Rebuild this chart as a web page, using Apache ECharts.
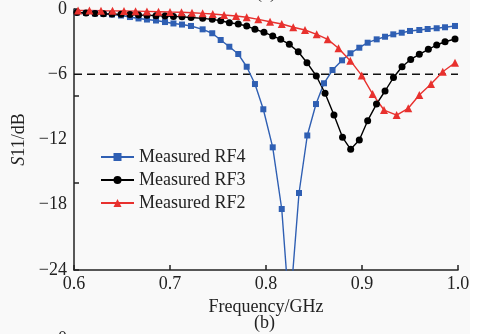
<!DOCTYPE html>
<html>
<head>
<meta charset="utf-8">
<script src="https://cdn.jsdelivr.net/npm/echarts@6/dist/echarts.min.js"></script>
<style>
  html, body { margin: 0; padding: 0; background: #ffffff; }
  #chart { width: 483px; height: 334px; }
</style>
</head>
<body>
<div id="chart"></div>
<script>
// Reflection coefficient S11 (dB) versus frequency (GHz) for three measured designs
const freqRF4 = [0.603,0.6125,0.6219,0.6307,0.6396,0.649,0.6583,0.6672,0.676,0.6854,0.6948,0.7036,0.7125,0.7219,0.734,0.744,0.7528,0.7618,0.7711,0.7799,0.7885,0.7972,0.807,0.8164,0.8245,0.8344,0.843,0.8521,0.8604,0.8693,0.8792,0.888,0.8972,0.9059,0.9153,0.924,0.9326,0.9414,0.95,0.9597,0.9684,0.9778,0.9865,0.9969];
const s11RF4 = [-0.32,-0.37,-0.41,-0.46,-0.51,-0.60,-0.74,-0.87,-0.97,-1.06,-1.20,-1.33,-1.43,-1.56,-1.87,-2.23,-2.85,-3.47,-4.14,-5.31,-6.90,-9.22,-12.72,-18.39,-28.0,-16.92,-11.63,-8.74,-6.83,-5.61,-4.72,-4.07,-3.56,-3.10,-2.79,-2.55,-2.33,-2.18,-2.02,-1.93,-1.84,-1.77,-1.68,-1.56];

const freqRF3 = [0.603,0.6125,0.6219,0.6307,0.6396,0.649,0.6583,0.6672,0.676,0.6854,0.6948,0.7036,0.7125,0.7219,0.734,0.744,0.7528,0.7618,0.7711,0.7799,0.7885,0.7979,0.807,0.8153,0.8243,0.8336,0.8427,0.8524,0.8615,0.8708,0.8797,0.8882,0.8972,0.9059,0.9151,0.924,0.9328,0.9417,0.9507,0.9597,0.9691,0.9778,0.9865,0.9969];
const s11RF3 = [-0.32,-0.37,-0.41,-0.44,-0.46,-0.49,-0.51,-0.55,-0.58,-0.61,-0.64,-0.68,-0.72,-0.78,-0.86,-0.95,-1.08,-1.26,-1.38,-1.56,-1.87,-2.14,-2.48,-2.79,-3.25,-3.93,-4.94,-6.16,-7.75,-9.75,-11.80,-12.90,-12.05,-10.27,-8.74,-7.54,-6.30,-5.31,-4.64,-4.17,-3.71,-3.31,-3.01,-2.76];

const freqRF2 = [0.6042,0.6161,0.6281,0.6401,0.6521,0.6641,0.676,0.688,0.7,0.712,0.7229,0.734,0.7445,0.7563,0.7688,0.7799,0.792,0.8042,0.8164,0.8284,0.8406,0.8528,0.8643,0.8755,0.8878,0.8997,0.9111,0.9229,0.9361,0.9482,0.9597,0.9719,0.9841,0.9969];
const s11RF2 = [-0.14,-0.14,-0.16,-0.17,-0.18,-0.20,-0.22,-0.25,-0.28,-0.30,-0.35,-0.40,-0.46,-0.55,-0.64,-0.76,-0.95,-1.17,-1.38,-1.68,-1.93,-2.33,-2.79,-3.61,-4.75,-6.11,-7.82,-9.29,-9.75,-9.13,-7.91,-6.90,-5.77,-4.94];

// -6 dB reference level
const refLevel = -6;
const freqRange = [0.6, 1.0];

const yLabelTicks = [0, -6, -12, -18, -24];

const serif = "'Liberation Serif', 'Times New Roman', serif";

function pairs(xs, ys) {
  return xs.map((x, i) => [x, ys[i]]);
}

const chart = echarts.init(document.getElementById('chart'), null, { renderer: 'canvas' });

const curveStyle = (color, symbol, size) => ({
  type: 'line',
  symbol: symbol,
  symbolSize: size,
  showAllSymbol: true,
  clip: true,
  lineStyle: { color: color, width: 1.4 },
  itemStyle: { color: color, borderWidth: 0 },
  emphasis: { disabled: true },
  z: 3
});

chart.setOption({
  animation: false,
  backgroundColor: '#ffffff',
  textStyle: { fontFamily: serif },
  graphic: [
    { type: 'rect', shape: { x: 0, y: 0, width: 470, height: 334 }, style: { fill: '#f9f9f9' }, z: -10, silent: true },
    { type: 'text', left: 254, top: 314, style: { text: '(b)', font: '18px ' + serif, fill: '#222' } },
    { type: 'text', left: 58, top: 330, style: { text: '0', font: '18px ' + serif, fill: '#222' } },
    { type: 'text', left: 256, top: -16, style: { text: '(a)', font: '18px ' + serif, fill: '#222' } }
  ],
  grid: { left: 74, right: 25, top: 9, bottom: 64, containLabel: false },
  legend: {
    orient: 'vertical',
    left: 95,
    top: 143,
    itemWidth: 33,
    itemHeight: 10,
    itemGap: 5,
    textStyle: { fontFamily: serif, fontSize: 18, color: '#222', padding: [0, 0, 0, 0] },
    data: ['Measured RF4', 'Measured RF3', 'Measured RF2']
  },
  xAxis: {
    type: 'value',
    min: freqRange[0],
    max: freqRange[1],
    interval: 0.1,
    name: 'Frequency/GHz',
    nameLocation: 'middle',
    nameGap: 25,
    nameTextStyle: { fontFamily: serif, fontSize: 18, color: '#222' },
    axisLine: { onZero: false, lineStyle: { color: '#222', width: 1.5 } },
    axisTick: { inside: true, length: 5, lineStyle: { color: '#222', width: 1.5 } },
    axisLabel: { fontFamily: serif, fontSize: 18, color: '#222', margin: 5, formatter: v => v.toFixed(1) },
    splitLine: { show: false }
  },
  yAxis: [
    {
      type: 'value',
      min: -24,
      max: 0,
      interval: 6,
      name: '{it|S}11/dB',
      nameLocation: 'middle',
      nameRotate: 90,
      nameGap: 45,
      nameTextStyle: {
        fontFamily: serif, fontSize: 18, color: '#222',
        rich: { it: { fontFamily: serif, fontSize: 18, fontStyle: 'italic', color: '#222' } }
      },
      axisLine: { show: true, onZero: false, lineStyle: { color: '#222', width: 1.5 } },
      axisTick: { show: false },
      axisLabel: {
        fontFamily: serif, fontSize: 18, color: '#222', margin: 7,
        formatter: v => (yLabelTicks.includes(v) ? (v < 0 ? '\u2212' + Math.abs(v) : String(v)) : '')
      },
      splitLine: { show: false }
    },
    {
      type: 'value',
      min: -24,
      max: 0,
      interval: 8,
      position: 'left',
      axisLine: { show: false },
      axisTick: { show: true, inside: true, length: 5, lineStyle: { color: '#222', width: 1.5 } },
      axisLabel: { show: false },
      splitLine: { show: false }
    }
  ],
  series: [
    {
      name: 'reference',
      type: 'line',
      data: [[freqRange[0], refLevel], [freqRange[1], refLevel]],
      symbol: 'none',
      lineStyle: { color: '#111', width: 1.5, type: [8, 5] },
      emphasis: { disabled: true },
      z: 1
    },
    Object.assign(curveStyle('#2f5fb3', 'rect', 6), { name: 'Measured RF4', data: pairs(freqRF4, s11RF4) }),
    Object.assign(curveStyle('#000000', 'circle', 7), { name: 'Measured RF3', data: pairs(freqRF3, s11RF3) }),
    Object.assign(curveStyle('#e8312e', 'triangle', 8), { name: 'Measured RF2', data: pairs(freqRF2, s11RF2) })
  ]
});
</script>
</body>
</html>
